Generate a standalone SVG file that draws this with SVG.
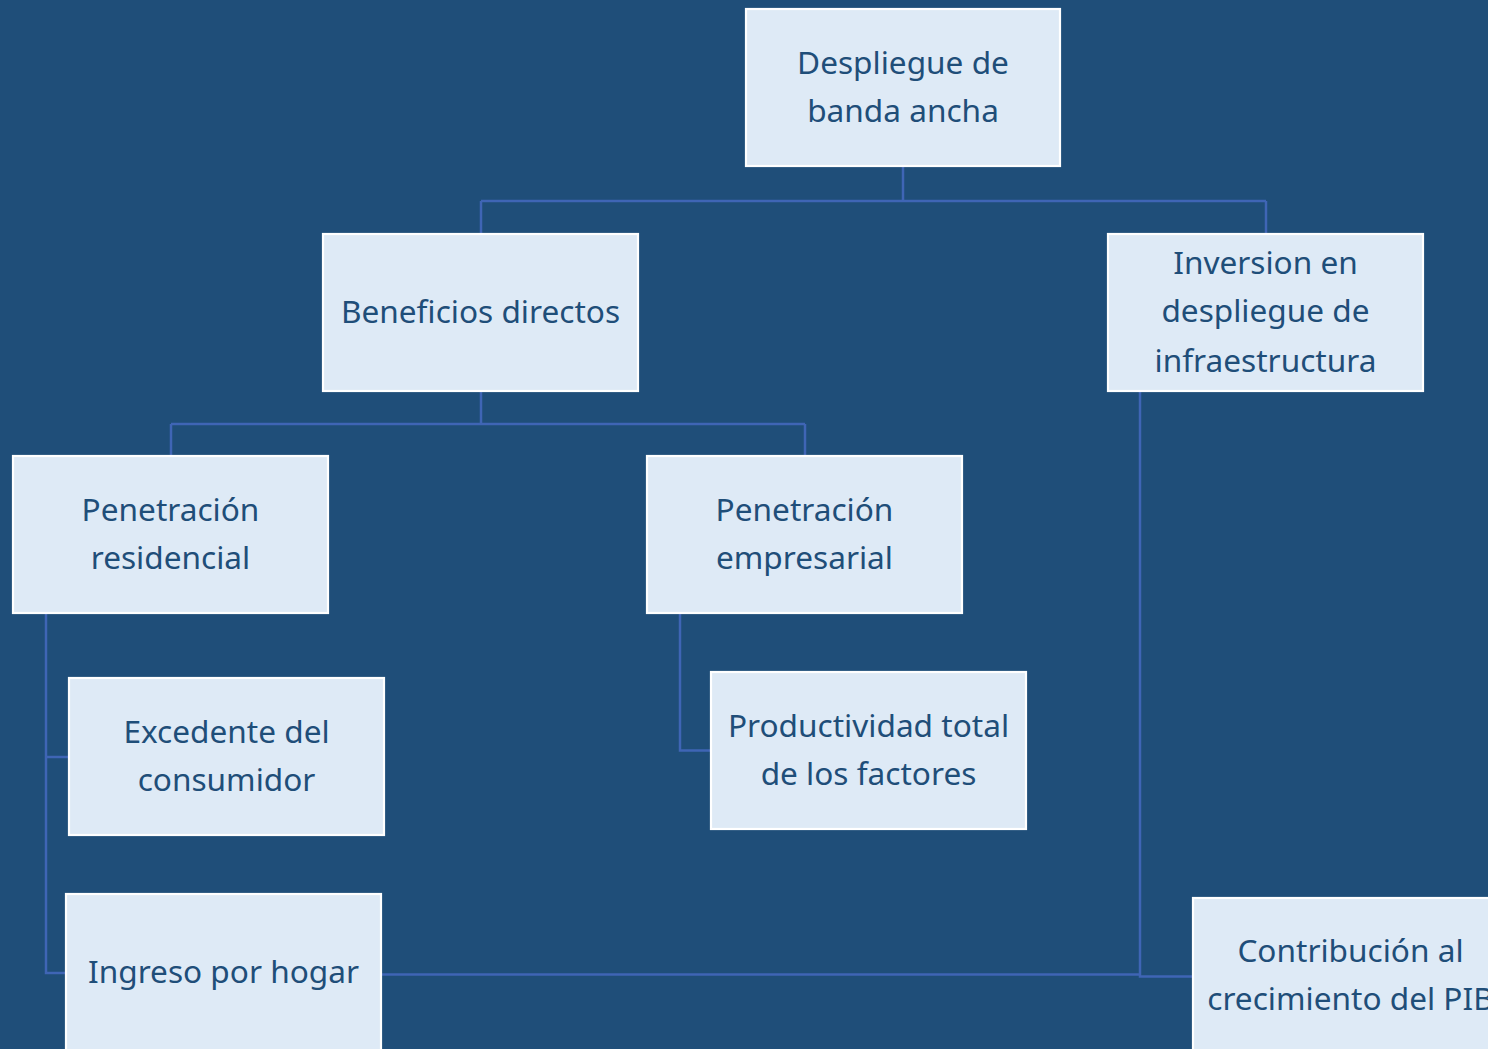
<svg xmlns="http://www.w3.org/2000/svg" width="1488" height="1049" viewBox="0 0 1488 1049">
<style>
.box{fill:#deeaf6;stroke:#ffffff;stroke-width:2.2}
.lbl{font-family:"Noto Sans","Open Sans","DejaVu Sans",sans-serif;font-size:31.6px;fill:#1f4e79;text-anchor:middle}
.conn{fill:none;stroke:#3f65b5;stroke-width:2.5}
</style>
<rect width="1488" height="1049" fill="#1f4e79"/>
<g id="connectors">
<path class="conn" d="M903,166 V201 M481,201 H1266 M481,201 V234 M1266,201 V234"/>
<path class="conn" d="M481,391 V424 M171,424 H805 M171,424 V456 M805,424 V456"/>
<path class="conn" d="M46,613 V973 H66 M46,757 H69"/>
<path class="conn" d="M680,613 V750.5 H711"/>
<path class="conn" d="M381,974.5 H1140"/>
<path class="conn" d="M1140,391 V976.5 H1193"/>
</g>
<g id="n1"><rect class="box" x="746" y="9" width="314" height="157"/><text class="lbl" x="903" y="73.5">Despliegue de</text><text class="lbl" x="903" y="121.5">banda ancha</text></g>
<g id="n2"><rect class="box" x="323" y="234" width="315" height="157"/><text class="lbl" x="480.5" y="322.5">Beneficios directos</text></g>
<g id="n3"><rect class="box" x="1108" y="234" width="315" height="157"/><text class="lbl" x="1265.5" y="273.5">Inversion en</text><text class="lbl" x="1265.5" y="321.5">despliegue de</text><text class="lbl" x="1265.5" y="371.5">infraestructura</text></g>
<g id="n4"><rect class="box" x="13" y="456" width="315" height="157"/><text class="lbl" x="170.5" y="520.5">Penetración</text><text class="lbl" x="170.5" y="568.5">residencial</text></g>
<g id="n5"><rect class="box" x="647" y="456" width="315" height="157"/><text class="lbl" x="804.5" y="520.5">Penetración</text><text class="lbl" x="804.5" y="568.5">empresarial</text></g>
<g id="n6"><rect class="box" x="69" y="678" width="315" height="157"/><text class="lbl" x="226.5" y="742.5">Excedente del</text><text class="lbl" x="226.5" y="790.5">consumidor</text></g>
<g id="n7"><rect class="box" x="711" y="672" width="315" height="157"/><text class="lbl" x="868.5" y="736.5">Productividad total</text><text class="lbl" x="868.5" y="784.5">de los factores</text></g>
<g id="n8"><rect class="box" x="66" y="894" width="315" height="157"/><text class="lbl" x="223.5" y="983">Ingreso por hogar</text></g>
<g id="n9"><rect class="box" x="1193" y="898" width="315" height="157"/><text class="lbl" x="1350.5" y="962">Contribución al</text><text class="lbl" x="1350.5" y="1010">crecimiento del PIB</text></g>
</svg>
